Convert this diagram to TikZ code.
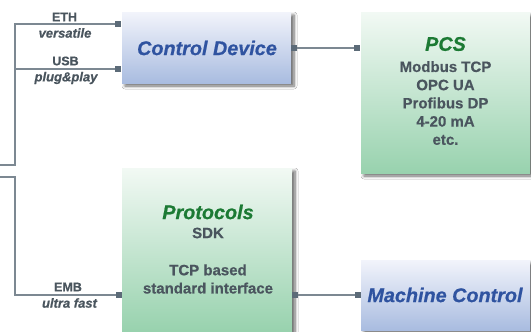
\documentclass[tikz,border=0pt]{standalone}
\usepackage{fontspec}
\setmainfont{Liberation Sans}[BoldFeatures={FakeBold=0.6},BoldItalicFeatures={FakeBold=0.6}]
\usetikzlibrary{shadows.blur}
\definecolor{linegrey}{HTML}{7C8892}
\definecolor{portgrey}{HTML}{5C6B78}
\definecolor{labgrey}{HTML}{4A555E}
\definecolor{titleblue}{HTML}{2F53A0}
\definecolor{titlegreen}{HTML}{1C7A34}
\definecolor{bluetop}{HTML}{F2F4FB}
\definecolor{bluebot}{HTML}{A9BCE0}
\definecolor{greentop}{HTML}{F2F9F4}
\definecolor{greenbot}{HTML}{98D2AE}
\tikzset{
  conn/.style={draw=linegrey, line width=1.1pt},
  port/.style={fill=portgrey, draw=none, minimum width=6pt, minimum height=6pt, inner sep=0pt, outer sep=0pt},
  boxshadow/.style={blur shadow={shadow xshift=3pt, shadow yshift=-3pt, shadow blur steps=6, shadow blur radius=3pt, shadow opacity=60}},
  bluebox/.style={boxshadow, top color=bluetop, bottom color=bluebot, draw=none},
  greenbox/.style={boxshadow, top color=greentop, bottom color=greenbot, draw=none},
  lab/.style={text=labgrey, font=\fontsize{12.5}{14}\selectfont\bfseries, inner sep=0pt},
  sublab/.style={text=labgrey, font=\fontsize{13}{14}\selectfont\bfseries\itshape, inner sep=0pt},
  ttlblue/.style={text=titleblue, font=\fontsize{19.8}{22}\selectfont\bfseries\itshape, inner sep=0pt},
  ttlgreen/.style={text=titlegreen, font=\fontsize{19.8}{22}\selectfont\bfseries\itshape, inner sep=0pt},
  body/.style={text=labgrey, font=\fontsize{15}{18.2}\selectfont\bfseries, inner sep=0pt, align=center},
}
\begin{document}
\begin{tikzpicture}[x=1pt, y=-1pt]
\useasboundingbox (0,0) rectangle (531,332);
\fill[white] (0,0) rectangle (531,332);
% boxes
\path[bluebox] (122,12) rectangle (291,83);
\path[greenbox] (361,12) rectangle (530,173);
\path[greenbox] (122,168) rectangle (292,331);
\path[bluebox] (361,260) rectangle (530,330);
% anchors
\coordinate (srcA) at (0,165);
\coordinate (srcB) at (0,177);
\coordinate (kA) at (15,165);
\coordinate (kB) at (15,177);
% ports
\node[port] (pEth) at (118,24) {};
\node[port] (pUsb) at (118,69) {};
\node[port] (pCdR) at (294,48) {};
\node[port] (pPcs) at (357,48) {};
\node[port] (pEmb) at (119,295) {};
\node[port] (pPrR) at (295,295) {};
\node[port] (pMc) at (358,295) {};
% connectors
\draw[conn] (srcA) -- (kA) |- (pEth.west);
\draw[conn] (kA |- pUsb) -- (pUsb.west);
\draw[conn] (srcB) -- (kB) |- (pEmb.west);
\draw[conn] (pCdR.east) -- (pPcs.west);
\draw[conn] (pPrR.east) -- (pMc.west);
% labels
\node[lab] (eth) at (64.5,17) {ETH};
\node[sublab] (vers) at (65,33) {versatile};
\node[lab] (usb) at (65.5,61) {USB};
\node[sublab] (pnp) at (66,78) {plug\&play};
\node[lab] (emb) at (68,287) {EMB};
\node[sublab] (uf) at (69.5,303) {ultra fast};
% titles
\node[ttlblue] (cd) at (207,48) {Control Device};
\node[ttlblue] (mc) at (445,295) {Machine Control};
\node[ttlgreen] (pcs) at (445.5,44) {PCS};
\node[body] (pcsbody) at (445.5,103) {Modbus TCP\\OPC UA\\Profibus DP\\4-20 mA\\etc.};
\node[ttlgreen] (prot) at (208,212) {Protocols};
\node[body] (sdk) at (208,233) {SDK};
\node[body] (tcp) at (208,279) {TCP based\\standard interface};
\end{tikzpicture}
\end{document}
